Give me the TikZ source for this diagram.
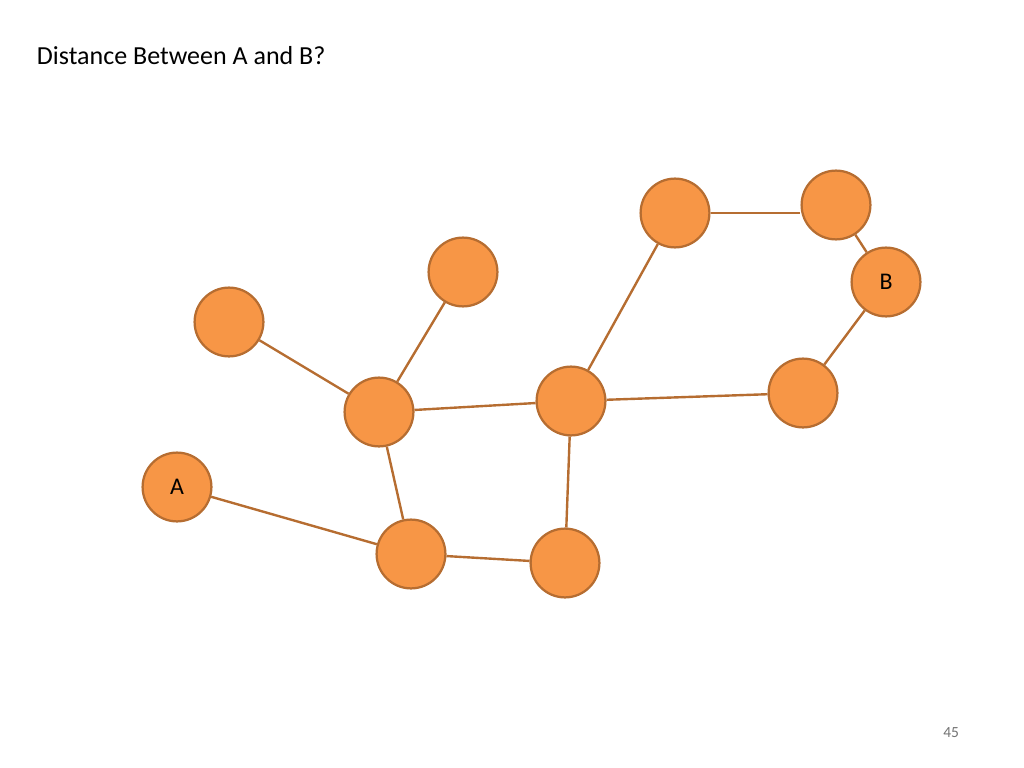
\documentclass[tikz,border=0pt]{standalone}
\usepackage{fontspec}
\setmainfont{Carlito}
\usepackage{tikz}

\definecolor{nodefill}{HTML}{F79646}
\definecolor{nodeline}{HTML}{B66D31}

\begin{document}
\begin{tikzpicture}[x=0.025cm,y=-0.025cm]
  \useasboundingbox (0,0) rectangle (1024,768);
  \tikzstyle{vertex}=[circle,fill=nodefill,draw=nodeline,line width=1.6pt,minimum size=1.72cm,inner sep=0pt,font=\fontsize{17}{20}\selectfont]
  \tikzstyle{edge}=[draw=nodeline,line width=1.7pt]
  \node[anchor=west,font=\fontsize{18.5}{22}\selectfont] (title) at (32,56) {Distance Between A and B?};
  \node[anchor=east,text=black!55,font=\fontsize{11}{13}\selectfont] (page) at (964,733) {45};
  \node[vertex] (A) at (177,487) {A};
  \node[vertex] (V_1) at (229,322) {};
  \node[vertex] (V_2) at (463,272) {};
  \node[vertex] (V_3) at (379,412) {};
  \node[vertex] (V_4) at (411,554) {};
  \node[vertex] (V_5) at (565,563) {};
  \node[vertex] (V_6) at (571,401) {};
  \node[vertex] (V_7) at (675,213) {};
  \node[vertex] (V_8) at (836,205) {};
  \node[vertex] (B) at (886,282) {B};
  \node[vertex] (V_9) at (803,393) {};
  \draw[edge] (A) -- (V_4);
  \draw[edge] (V_1) -- (V_3);
  \draw[edge] (V_2) -- (V_3);
  \draw[edge] (V_3) -- (V_6);
  \draw[edge] (V_3) -- (V_4);
  \draw[edge] (V_4) -- (V_5);
  \draw[edge] (V_5) -- (V_6);
  \draw[edge] (V_6) -- (V_7);
  \draw[edge] (V_7) -- (V_7 -| V_8.west);
  \draw[edge] (V_8) -- (B);
  \draw[edge] (B) -- (V_9);
  \draw[edge] (V_9) -- (V_6);
\end{tikzpicture}
\end{document}
